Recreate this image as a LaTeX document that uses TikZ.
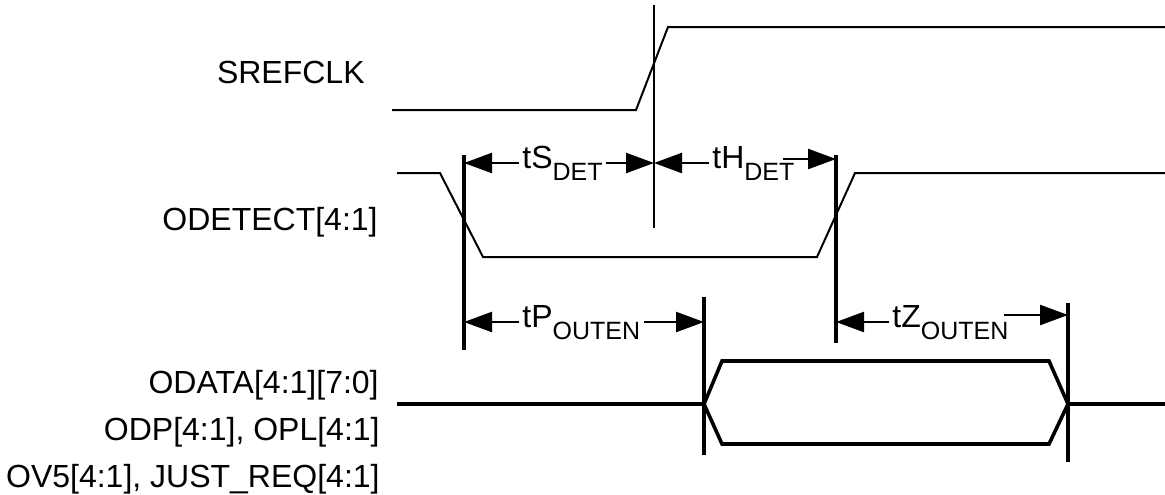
\documentclass[tikz,border=0pt]{standalone}
\usepackage{fontspec}
\setmainfont{Liberation Sans}
\usetikzlibrary{positioning,arrows.meta,calc}
\newcommand{\lowsub}[1]{\raisebox{-6pt}{\fontsize{12.5}{15}\selectfont #1}}

\begin{document}
\begin{tikzpicture}[
  x=0.5pt, y=-0.5pt,
  font=\fontsize{16}{19}\selectfont,
  sig/.style={line width=1pt},
  bus/.style={line width=1.8pt},
  edgeline/.style={line width=1.6pt},
  dim/.style={line width=1.2pt, -{Triangle[length=14pt,width=10pt]}},
  lbl/.style={anchor=base east, inner sep=0pt},
  tlbl/.style={anchor=mid west, inner xsep=1.5pt, inner ysep=0pt}]
\useasboundingbox (0,0) rectangle (1165,494);

\node[lbl] (srefclk) at (365,83) {SREFCLK};
\node[lbl] (odetect) at (378,230) {ODETECT[4:1]};
\node[lbl] (odata) at (379,393) {ODATA[4:1][7:0]};
\node[lbl] (odp) at (380,440) {ODP[4:1], OPL[4:1]};
\node[lbl] (ov5) at (380,487) {OV5[4:1], JUST\_REQ[4:1]};

\draw[sig] (392,110) -- (636,110) -- (668,27) -- (1165,27);
\draw[sig] (397,173) -- (440,173) -- (483,257) -- (817,257) -- (855,173) -- (1165,173);
\draw[bus] (397,404) -- (704,404) (1068,404) -- (1165,404);
\draw[bus] (704,404) -- (722,361) -- (1049,361) -- (1068,404) -- (1049,444) -- (722,444) -- cycle;

\draw[sig] (654,5) coordinate (clk) -- (654,228);
\draw[edgeline] (464,155) coordinate (m1) -- (464,350);
\draw[edgeline] (836,155) coordinate (m2) -- (836,343);
\draw[edgeline] (704,297) coordinate (m3) -- (704,455);
\draw[edgeline] (1068,303) coordinate (m4) -- (1068,462);

\node[tlbl] (tS) at (519,163) {tS\lowsub{DET}};
\node[tlbl] (tH) at (709,163) {tH\lowsub{DET}};
\node[tlbl] (tP) at (519,322) {tP\lowsub{OUTEN}};
\node[tlbl] (tZ) at (889,322) {tZ\lowsub{OUTEN}};

\draw[dim] (tS.mid west) -- (m1 |- tS.mid west);
\draw[dim] (tS.mid east) -- (clk |- tS.mid east);
\draw[dim] (tH.mid west) -- (clk |- tH.mid west);
\draw[dim] ($(tH.mid east)+(-15,-4)$) -- (m2 |- 0,159);
\draw[dim] (tP.mid west) -- (m1 |- tP.mid west);
\draw[dim] (tP.mid east) -- (m3 |- tP.mid east);
\draw[dim] (tZ.mid west) -- (m2 |- tZ.mid west);
\draw[dim] ($(tZ.mid east)+(-8,-7)$) -- (m4 |- 0,315);
\end{tikzpicture}
\end{document}
